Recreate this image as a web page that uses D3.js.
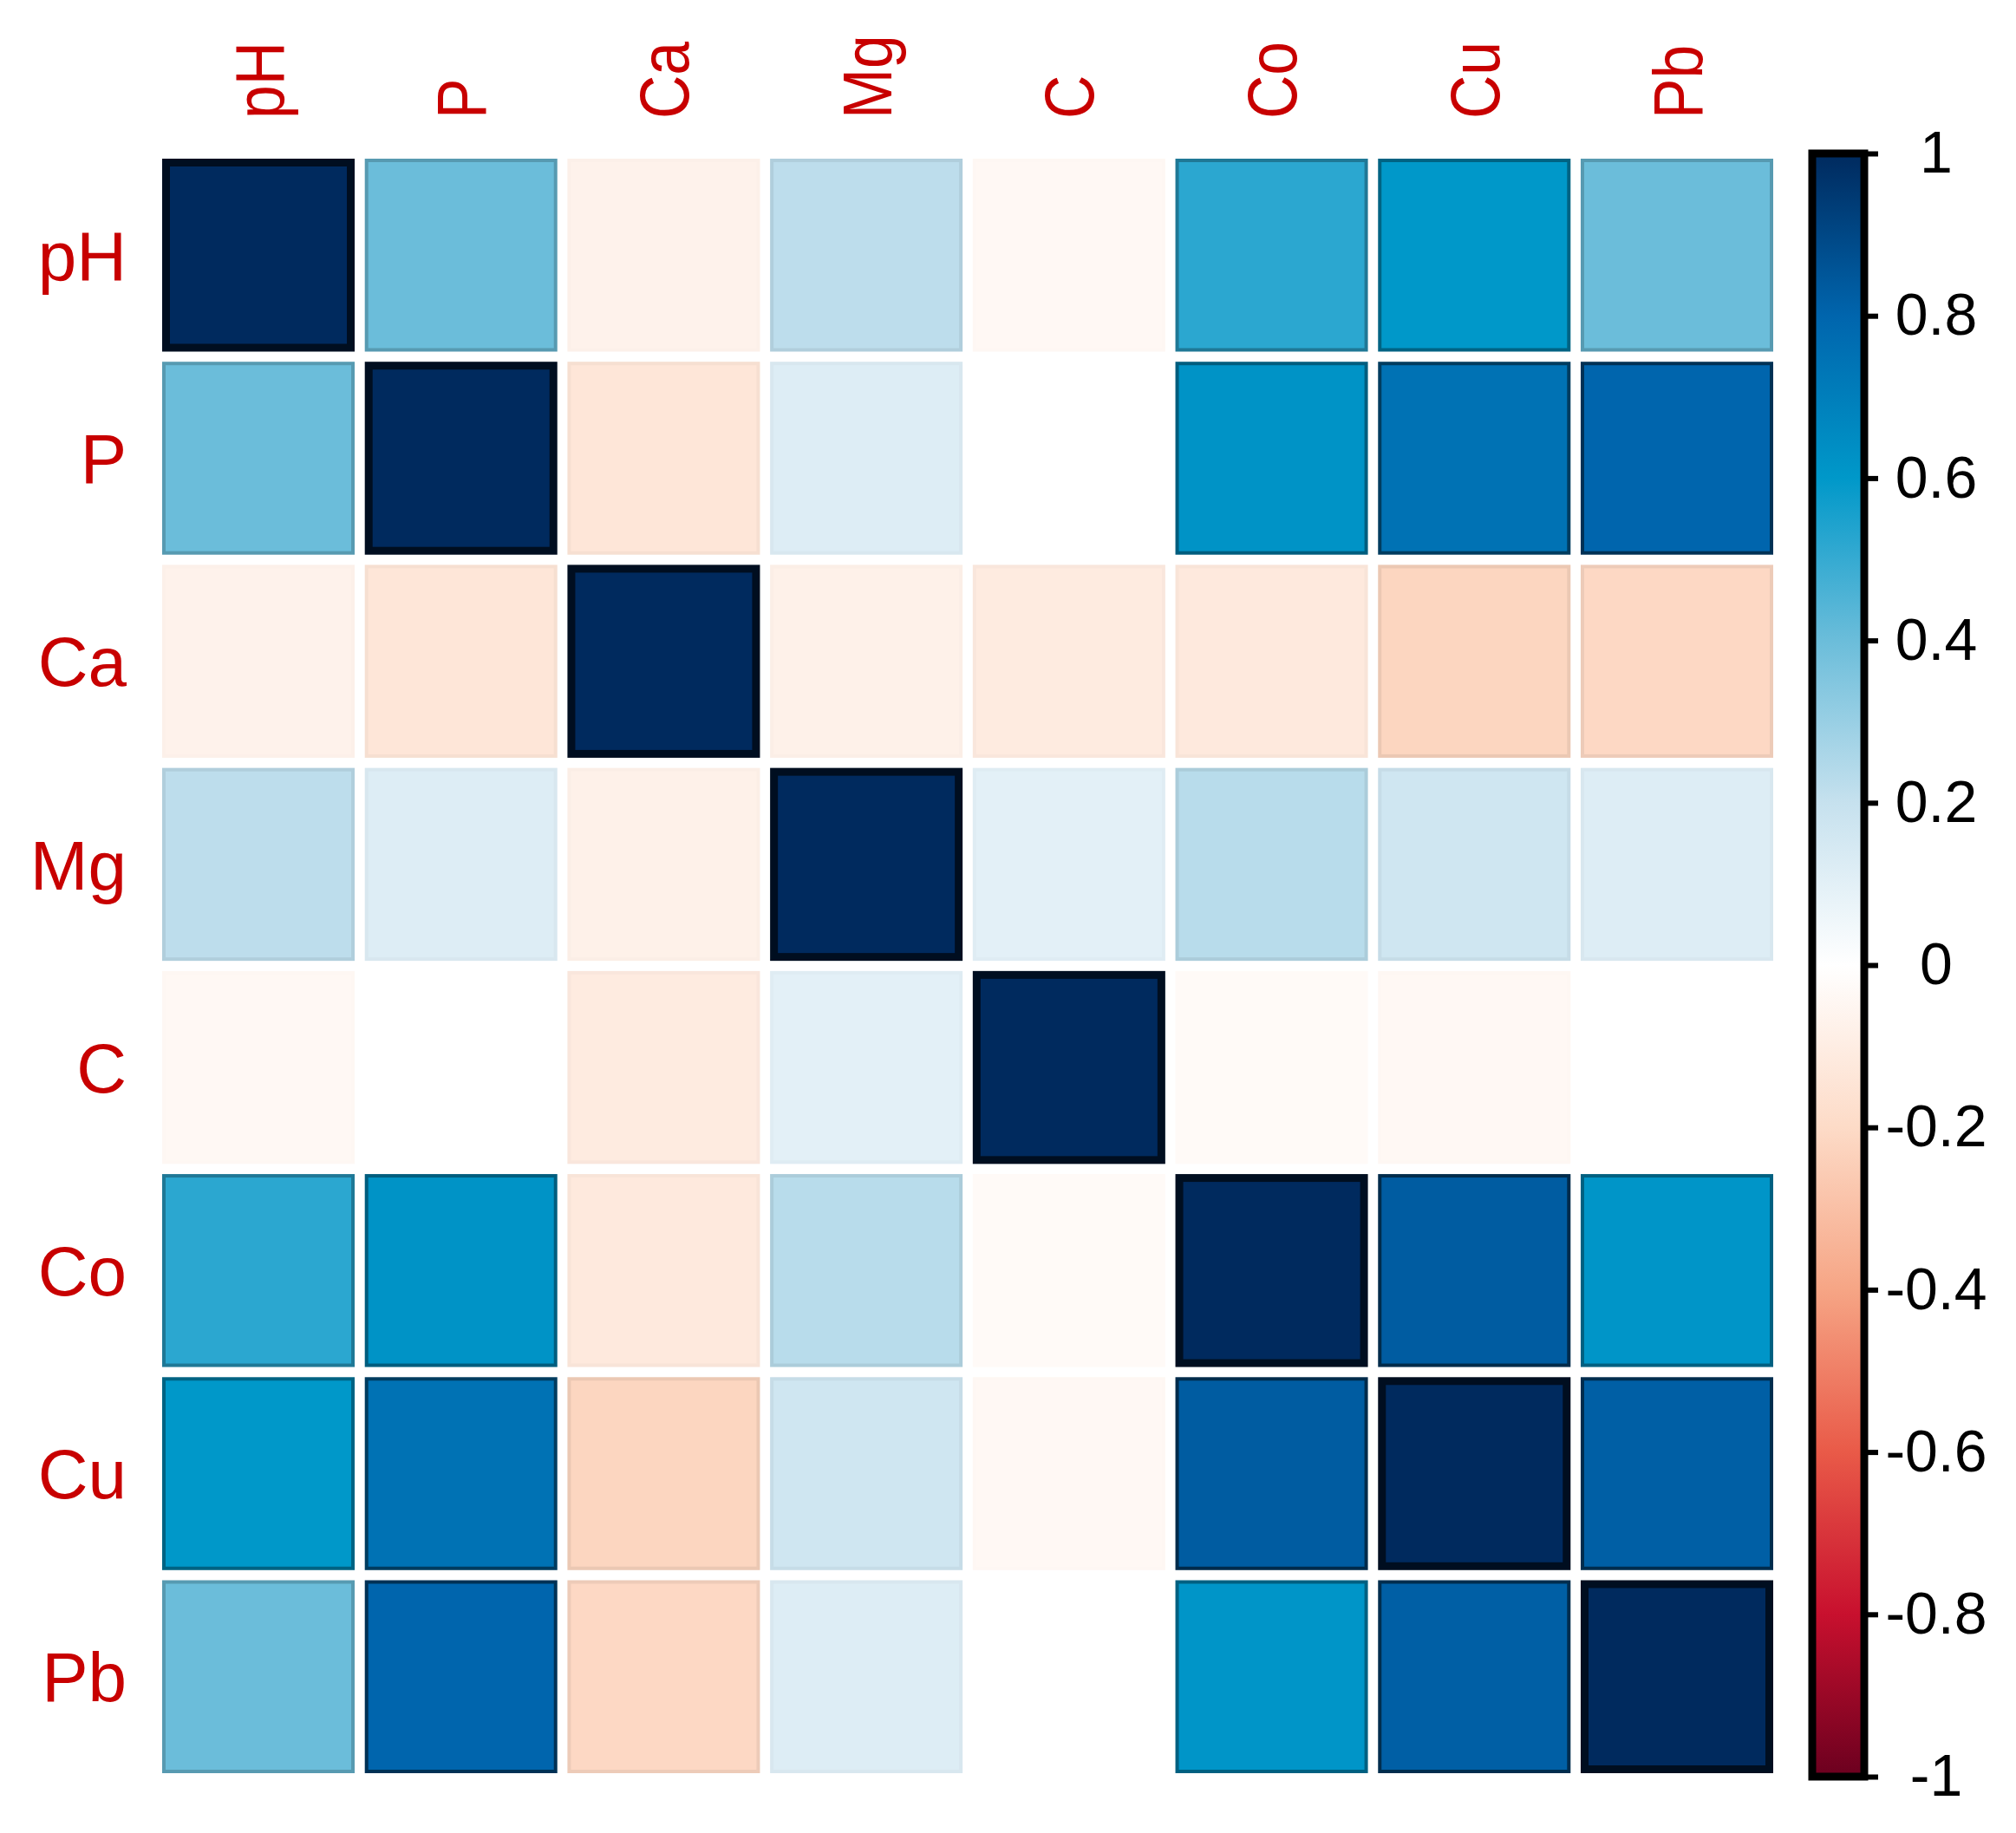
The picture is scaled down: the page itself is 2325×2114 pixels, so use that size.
<!DOCTYPE html>
<html>
<head>
<meta charset="utf-8">
<script src="https://cdn.jsdelivr.net/npm/d3@7"></script>
<style>
  html, body { margin: 0; padding: 0; background: #fff; }
  svg { display: block; }
  text { font-family: "Liberation Sans", Arial, sans-serif; }
</style>
</head>
<body>
<svg id="chart" width="2325" height="2114"></svg>
<script>
// variables of the correlation matrix (rows and columns, same order)
var variables = ["pH", "P", "Ca", "Mg", "C", "Co", "Cu", "Pb"];

// correlation values, one array per row
var corPH = [1.00, 0.40, -0.07, 0.22, -0.04, 0.52, 0.60, 0.40];
var corP  = [0.40, 1.00, -0.14, 0.12, 0.00, 0.62, 0.75, 0.80];
var corCa = [-0.07, -0.14, 1.00, -0.08, -0.11, -0.12, -0.22, -0.21];
var corMg = [0.22, 0.12, -0.08, 1.00, 0.10, 0.23, 0.17, 0.12];
var corC  = [-0.04, 0.00, -0.11, 0.10, 1.00, -0.03, -0.04, 0.00];
var corCo = [0.52, 0.62, -0.12, 0.23, -0.03, 1.00, 0.83, 0.61];
var corCu = [0.60, 0.75, -0.22, 0.17, -0.04, 0.83, 1.00, 0.82];
var corPb = [0.40, 0.80, -0.21, 0.12, 0.00, 0.61, 0.82, 1.00];

// colour legend
var legendValues = [-1, -0.8, -0.6, -0.4, -0.2, 0, 0.2, 0.4, 0.6, 0.8, 1];
var legendColors = ["#6b001f", "#c8102e", "#e95a48", "#f6a585", "#fddbc7", "#ffffff",
                    "#c6e1ee", "#6bbdda", "#0098c9", "#0065ad", "#002a5e"];
var legendTicks = [-1, -0.8, -0.6, -0.4, -0.2, 0, 0.2, 0.4, 0.6, 0.8, 1];

var corMatrix = [corPH, corP, corCa, corMg, corC, corCo, corCu, corPb];

var svg = d3.select("#chart");

var x = d3.scaleBand().domain(variables).range([187, 2045]).paddingInner(0.05);
var y = d3.scaleBand().domain(variables).range([183, 2045]).paddingInner(0.05);
var color = d3.scaleLinear().domain(legendValues).range(legendColors).interpolate(d3.interpolateRgb);

var cells = [];
corMatrix.forEach(function (row, i) {
    row.forEach(function (v, j) {
        cells.push({ row: variables[i], col: variables[j], value: v });
    });
});

//cells with a darker outline, heavier for strong values
svg.append("g").selectAll("rect")
    .data(cells)
    .enter().append("rect")
    .each(function (d) {
        var sw = Math.abs(d.value) >= 0.999 ? 9 : 4;
        var fill = color(d.value);
        var stroke = d3.color(fill).darker(Math.pow(Math.abs(d.value), 1.8) * 3);
        d3.select(this)
            .attr("x", x(d.col) + sw / 2)
            .attr("y", y(d.row) + sw / 2)
            .attr("width", x.bandwidth() - sw)
            .attr("height", y.bandwidth() - sw)
            .attr("fill", fill)
            .attr("stroke", stroke)
            .attr("stroke-width", sw);
    });

var labelSize = 80;
var capH = labelSize * 0.716;

// row labels
svg.append("g").selectAll("text")
    .data(variables)
    .enter().append("text")
    .attr("x", 146)
    .attr("y", function (d) { return y(d) + y.bandwidth() / 2 + capH / 2; })
    .attr("text-anchor", "end")
    .attr("font-size", labelSize)
    .attr("fill", "#c80000")
    .text(function (d) { return d; });

// column labels, rotated
svg.append("g").selectAll("text")
    .data(variables)
    .enter().append("text")
    .attr("transform", function (d) {
        var cx = x(d) + x.bandwidth() / 2 + capH / 2;
        return "translate(" + cx + ",137) rotate(-90) scale(0.87,1)";
    })
    .attr("text-anchor", "start")
    .attr("font-size", labelSize)
    .attr("fill", "#c80000")
    .text(function (d) { return d; });

/* colour bar */
var cy = d3.scaleLinear().domain([-1, 1]).range([2049, 177]);

var grad = svg.append("defs").append("linearGradient")
    .attr("id", "legendGrad")
    .attr("x1", 0).attr("y1", 1).attr("x2", 0).attr("y2", 0);
grad.selectAll("stop")
    .data(legendValues)
    .enter().append("stop")
    .attr("offset", function (d) { return (d + 1) / 2; })
    .attr("stop-color", function (d, i) { return legendColors[i]; });

svg.append("rect")
    .attr("x", 2090)
    .attr("y", cy(1))
    .attr("width", 60)
    .attr("height", cy(-1) - cy(1))
    .attr("fill", "url(#legendGrad)")
    .attr("stroke", "#000")
    .attr("stroke-width", 9);

var axis = d3.axisRight(cy)
    .tickValues(legendTicks)
    .tickSize(16)
    .tickFormat(function (d) { return String(+d.toFixed(1)); });

var ag = svg.append("g")
    .attr("transform", "translate(2150,0)")
    .call(axis);
ag.select(".domain").remove();
ag.selectAll(".tick line").attr("stroke", "#000").attr("stroke-width", 6);
ag.selectAll(".tick text")
    .attr("x", 83)
    .attr("text-anchor", "middle")
    .attr("font-size", 68)
    .attr("font-family", "Liberation Sans, Arial, sans-serif")
    .attr("fill", "#000");
</script>
</body>
</html>
